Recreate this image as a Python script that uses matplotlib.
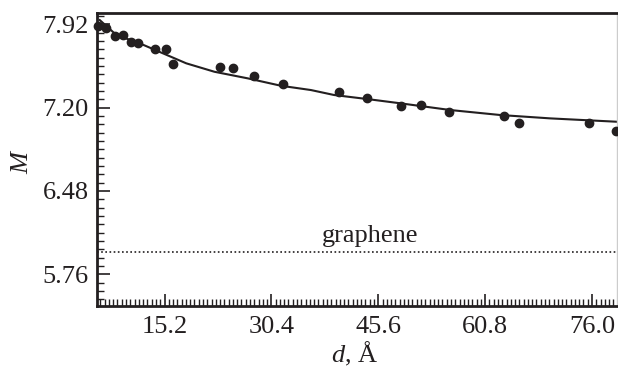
import numpy as np
import matplotlib
matplotlib.use("Agg")
import matplotlib.pyplot as plt
from matplotlib.ticker import MultipleLocator, FixedLocator

plt.rcParams['font.family'] = ['Liberation Serif', 'DejaVu Serif']
plt.rcParams['mathtext.fontset'] = 'custom'
plt.rcParams['mathtext.rm'] = 'Liberation Serif'
plt.rcParams['mathtext.it'] = 'Liberation Serif:italic'

# measured points
d_data = [5.77, 6.95, 8.22, 9.32, 10.49, 11.44, 13.90, 15.36, 16.41, 23.11, 25.00,
          27.98, 32.00, 40.03, 43.96, 48.78, 51.71, 55.72, 63.52, 65.55, 75.53, 79.40]
M_data = [7.905, 7.891, 7.821, 7.830, 7.770, 7.756, 7.709, 7.709, 7.574, 7.548, 7.540,
          7.476, 7.404, 7.332, 7.286, 7.216, 7.222, 7.162, 7.130, 7.069, 7.069, 7.000]

# fitted curve
d_fit = [5.99, 8.37, 11.67, 14.99, 18.29, 22.30, 27.04, 31.76, 36.02, 39.32,
         44.05, 48.78, 55.87, 62.96, 70.05, 79.50]
M_fit = [7.957, 7.827, 7.756, 7.669, 7.583, 7.510, 7.453, 7.389, 7.352, 7.309,
         7.274, 7.237, 7.179, 7.136, 7.107, 7.078]

M_graphene = 5.95

xticks = [15.2, 30.4, 45.6, 60.8, 76.0]
yticks = [5.76, 6.48, 7.20, 7.92]

col = '#231f20'
fs = 19

fig = plt.figure(figsize=(6.18, 3.69), dpi=100)
ax = fig.add_axes([97/618, 1-306/369, 520/618, 293/369])

ax.plot(d_fit, M_fit, '-', color=col, lw=1.5)
ax.plot(d_data, M_data, 'o', color=col, ms=6, mec=col, clip_on=False, zorder=3)
ax.axhline(M_graphene, color=col, ls=(0, (1, 1.5)), lw=1.2)
ax.text(44.5, 6.038, 'graphene', ha='center', va='baseline', fontsize=fs, color=col)

ax.set_xlim(5.6, 79.55)
ax.set_ylim(5.485, 8.018)
ax.xaxis.set_major_locator(FixedLocator(xticks))
ax.yaxis.set_major_locator(FixedLocator(yticks))
ax.set_xticklabels(['%.1f' % v for v in xticks])
ax.set_yticklabels(['%.2f' % v for v in yticks])
ax.xaxis.set_minor_locator(MultipleLocator(0.608))
ax.yaxis.set_minor_locator(MultipleLocator(0.072))

ax.tick_params(which='both', direction='in', top=False, right=False, color=col,
               labelsize=fs, labelcolor=col)
ax.tick_params(which='major', length=9, width=1.2)
ax.tick_params(which='minor', length=5, width=1.0)
ax.tick_params(axis='x', pad=7)
ax.tick_params(axis='y', pad=6)

for s in ['left', 'bottom', 'top']:
    ax.spines[s].set_linewidth(2.0)
    ax.spines[s].set_color(col)
ax.spines['right'].set_color('#cccccc')
ax.spines['right'].set_linewidth(1.0)

ax.set_xlabel(r'$d$, Å', fontsize=fs, color=col)
ax.xaxis.set_label_coords(0.496, -0.193)
ax.xaxis.label.set_va('baseline')
ax.set_ylabel(r'$M$', fontsize=fs, color=col)
ax.yaxis.set_label_coords(-0.144, 0.495)
ax.yaxis.label.set_va('center')

fig.savefig('out.png', dpi=100)
